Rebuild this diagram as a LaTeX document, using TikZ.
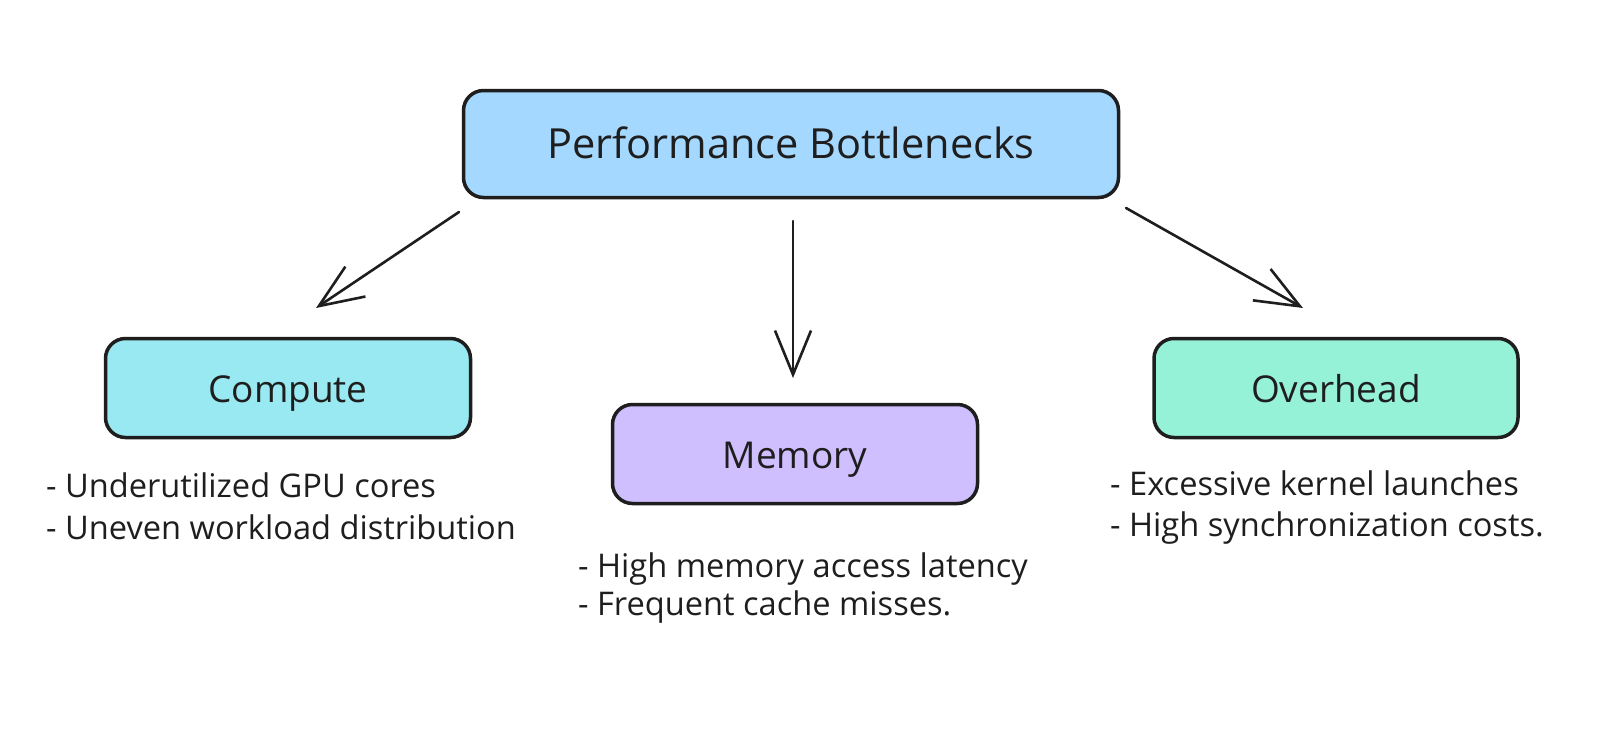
\documentclass[tikz,border=0pt]{standalone}
\usepackage{fontspec}
\setmainfont{Open Sans}
\usetikzlibrary{arrows.meta}
\definecolor{ink}{HTML}{1E1E1E}
\definecolor{topfill}{HTML}{A5D8FF}
\definecolor{compfill}{HTML}{99E9F2}
\definecolor{memfill}{HTML}{D0BFFF}
\definecolor{ovfill}{HTML}{96F2D7}
\tikzset{
  box/.style={draw=ink, line width=3.5pt, rounded corners=20pt, inner sep=0pt,
    text height=33pt, text depth=4pt,
    font=\fontsize{37}{40}\selectfont, text=ink},
  listtext/.style={anchor=base west, inner sep=0pt, align=left, text=ink,
    font=\fontsize{32.6}{42}\selectfont},
  conn/.style={draw=ink, line width=2.6pt, line cap=round,
    -{Straight Barb[length=44pt,width=36pt,line width=2.6pt]}}
}
\begin{document}
\begin{tikzpicture}[x=1pt,y=-1pt]
\useasboundingbox (0,0) rectangle (1600,737);
\fill[white] (0,0) rectangle (1600,737);

\node[box, fill=topfill, minimum width=655pt, minimum height=107pt,
  font=\fontsize{41.5}{44}\selectfont] (top) at (791,144) {Performance Bottlenecks};
\node[box, fill=compfill, minimum width=365pt, minimum height=99pt] (comp) at (288,388) {Compute};
\node[box, fill=memfill, minimum width=365pt, minimum height=99pt] (mem) at (795,454) {Memory};
\node[box, fill=ovfill, minimum width=364pt, minimum height=99pt] (ov) at (1336,388) {Overhead};

\coordinate (a1s) at (459,212);
\coordinate (a1e) at (316,308);
\coordinate (a2s) at (793,221);
\coordinate (a2e) at (793,378);
\coordinate (a3s) at (1126,208);
\coordinate (a3e) at (1303,308);
\draw[conn] (a1s) -- (a1e);
\draw[conn] (a2s) -- (a2e);
\draw[conn] (a3s) -- (a3e);

\node[listtext] (complist) at (46,539) {- Underutilized GPU cores\\- Uneven workload distribution};
\node[listtext, font=\fontsize{32.6}{38}\selectfont] (memlist) at (578,615) {- High memory access latency\\- Frequent cache misses.};
\node[listtext, font=\fontsize{32.6}{41}\selectfont] (ovlist) at (1110,536) {- Excessive kernel launches\\- High synchronization costs.};
\end{tikzpicture}
\end{document}
